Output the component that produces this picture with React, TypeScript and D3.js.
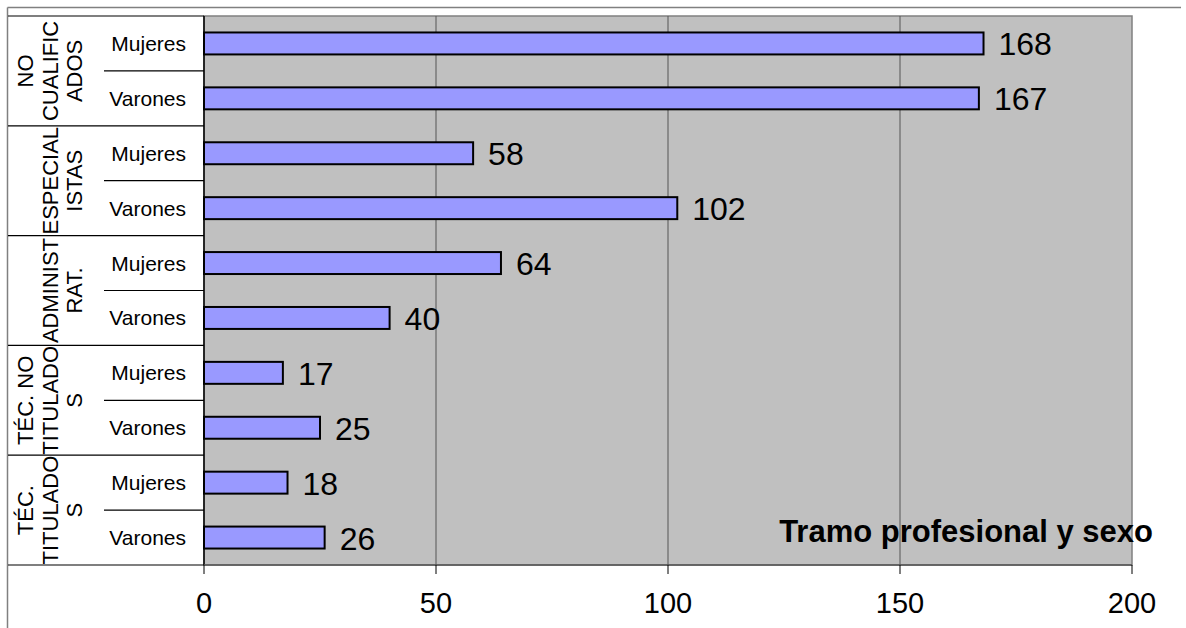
import React from "react";
import * as d3 from "d3";

const groupLines: string[][] = [
  ["NO", "CUALIFIC", "ADOS"],
  ["ESPECIAL", "ISTAS"],
  ["ADMINIST", "RAT."],
  ["TÉC. NO", "TITULADO", "S"],
  ["TÉC.", "TITULADO", "S"],
];
const sexes = ["Mujeres", "Varones"];
const mujeres = [168, 58, 64, 17, 18];
const varones = [167, 102, 40, 25, 26];
const xTicks = [0, 50, 100, 150, 200];
const title = "Tramo profesional y sexo";

const W = 1186;
const H = 628;
const FONT = "Liberation Sans, Arial, sans-serif";

export default function App() {
  const left = 204;
  const right = 1132;
  const top = 16;
  const bottom = 565;
  const tableLeft = 8;
  const subLeft = 104;

  const rows: { key: string; g: number; s: number; v: number }[] = [];
  groupLines.forEach((_, g) => {
    sexes.forEach((s, si) => {
      rows.push({ key: `${g}-${si}`, g, s: si, v: si === 0 ? mujeres[g] : varones[g] });
    });
  });

  const x = d3.scaleLinear().domain([0, 200]).range([left, right]);
  const y = d3
    .scaleBand<string>()
    .domain(rows.map((r) => r.key))
    .range([top, bottom])
    .paddingInner(0.6)
    .paddingOuter(0.3);
  const rowH = (bottom - top) / rows.length;
  const rowTop = (i: number) => top + i * rowH;

  return (
    <svg
      width={W}
      height={H}
      style={{ position: "absolute", left: 0, top: 0, background: "#fff" }}
      fontFamily={FONT}
    >
      {/* outer frame */}
      <line x1={7.5} x2={1181} y1={7.5} y2={7.5} stroke="#808080" strokeWidth={1.5} />
      <line x1={7.5} x2={7.5} y1={7.5} y2={H} stroke="#808080" strokeWidth={1.5} />

      {/* plot area */}
      <rect x={left} y={top} width={right - left} height={bottom - top} fill="#C0C0C0" stroke="#808080" strokeWidth={1.5} />
      {xTicks.slice(1, -1).map((t) => (
        <line key={t} x1={x(t)} x2={x(t)} y1={top} y2={bottom} stroke="#555" strokeWidth={1} />
      ))}

      {/* bars */}
      {rows.map((r) => (
        <g key={r.key}>
          <rect
            x={x(0)}
            y={y(r.key)!}
            width={x(r.v) - x(0)}
            height={y.bandwidth()}
            fill="#9999FF"
            stroke="#000"
            strokeWidth={2}
          />
          <text
            x={x(r.v) + 15}
            y={y(r.key)! + y.bandwidth() / 2 + 12}
            fontSize={32}
            fill="#000"
          >
            {r.v}
          </text>
        </g>
      ))}

      {/* axes */}
      <line x1={left} x2={left} y1={top} y2={bottom} stroke="#000" strokeWidth={1.5} />
      <line x1={left} x2={right} y1={bottom} y2={bottom} stroke="#555" strokeWidth={1.5} />
      {xTicks.map((t) => (
        <g key={t}>
          <line x1={x(t)} x2={x(t)} y1={bottom} y2={bottom + 9} stroke="#000" strokeWidth={1} />
          <text x={x(t)} y={613} fontSize={29} textAnchor="middle" fill="#000">
            {t}
          </text>
        </g>
      ))}

      {/* category table lines */}
      {d3.range(rows.length + 1).map((i) => {
        const yy = rowTop(i);
        const isGroup = i % 2 === 0;
        return (
          <line
            key={i}
            x1={isGroup ? tableLeft : subLeft}
            x2={left}
            y1={yy}
            y2={yy}
            stroke="#000"
            strokeWidth={1.2}
          />
        );
      })}

      {/* sub labels */}
      {rows.map((r, i) => (
        <text
          key={r.key}
          x={186}
          y={rowTop(i) + rowH / 2 + 7.5}
          fontSize={21}
          textAnchor="end"
          fill="#000"
        >
          {sexes[r.s]}
        </text>
      ))}

      {/* group labels */}
      {groupLines.map((lines, g) => {
        const cy = rowTop(g * 2) + rowH;
        const n = lines.length;
        return (
          <g key={g}>
            {lines.map((ln, li) => {
              const cx = 74 - (n - 1 - li) * 24.5;
              return (
                <text
                  key={li}
                  transform={`translate(${cx + 8},${cy}) rotate(-90)`}
                  fontSize={22}
                  textAnchor="middle"
                  fill="#000"
                >
                  {ln}
                </text>
              );
            })}
          </g>
        );
      })}

      {/* title */}
      <text x={1153} y={542} fontSize={31} fontWeight="bold" textAnchor="end" fill="#000">
        {title}
      </text>
    </svg>
  );
}
